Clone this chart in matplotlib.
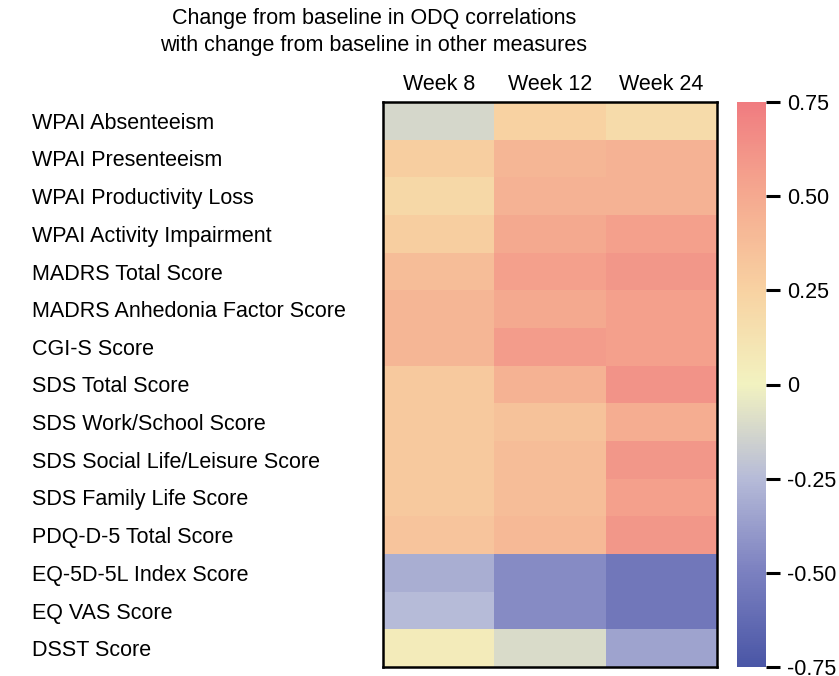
import numpy as np
import matplotlib.pyplot as plt
from matplotlib.colors import LinearSegmentedColormap

plt.rcParams['font.family'] = ['Liberation Sans', 'DejaVu Sans']

measures = ['WPAI Absenteeism', 'WPAI Presenteeism', 'WPAI Productivity Loss',
            'WPAI Activity Impairment', 'MADRS Total Score',
            'MADRS Anhedonia Factor Score', 'CGI-S Score', 'SDS Total Score',
            'SDS Work/School Score', 'SDS Social Life/Leisure Score',
            'SDS Family Life Score', 'PDQ-D-5 Total Score',
            'EQ-5D-5L Index Score', 'EQ VAS Score', 'DSST Score']
weeks = ['Week 8', 'Week 12', 'Week 24']

week8 = [-0.12, 0.27, 0.20, 0.27, 0.38, 0.42, 0.42, 0.30, 0.30, 0.30, 0.30, 0.33, -0.30, -0.25, 0.05]
week12 = [0.25, 0.42, 0.44, 0.50, 0.55, 0.50, 0.57, 0.45, 0.35, 0.38, 0.38, 0.40, -0.45, -0.45, -0.10]
week24 = [0.18, 0.44, 0.44, 0.55, 0.60, 0.55, 0.55, 0.62, 0.48, 0.60, 0.55, 0.60, -0.55, -0.55, -0.35]

cbar_ticks = [0.75, 0.5, 0.25, 0, -0.25, -0.5, -0.75]
cbar_labels = ['0.75', '0.50', '0.25', '0', '-0.25', '-0.50', '-0.75']

data = np.array([week8, week12, week24]).T

cmap = LinearSegmentedColormap.from_list('odq', [
    (0.0, '#4a56a6'), (1/6, '#7b80c0'), (2/6, '#b6bbd8'),
    (0.5, '#f2f2c0'), (4/6, '#f8d2a2'), (5/6, '#f5aa90'), (1.0, '#f07c80')])

fig = plt.figure(figsize=(8.39, 6.76), dpi=100)
ax = fig.add_axes([383/839, 1 - 667/676, 334/839, 565/676])
im = ax.imshow(data, cmap=cmap, vmin=-0.75, vmax=0.75, aspect='auto')

fs = 15.5
ax.set_xticks(range(len(weeks)))
ax.set_xticklabels(weeks, fontsize=fs)
ax.xaxis.tick_top()
ax.set_yticks(range(len(measures)))
ax.set_yticklabels(measures, fontsize=fs, ha='left')
ax.tick_params(length=0, pad=5)
ax.tick_params(axis='y', pad=(383 - 32) * 0.72)
for s in ax.spines.values():
    s.set_linewidth(1.8)

cax = fig.add_axes([737/839, 1 - 667/676, 29/839, 565/676])
cb = fig.colorbar(im, cax=cax)
cb.outline.set_visible(False)
cb.set_ticks(cbar_ticks)
cb.set_ticklabels(cbar_labels)
cax.tick_params(labelsize=15.5, length=10, width=2.2, pad=5)

fig.text(374/839, 1 - 32/676, 'Change from baseline in ODQ correlations\nwith change from baseline in other measures',
         ha='center', va='center', fontsize=fs, linespacing=1.4)

fig.savefig('out.png', dpi=100)
